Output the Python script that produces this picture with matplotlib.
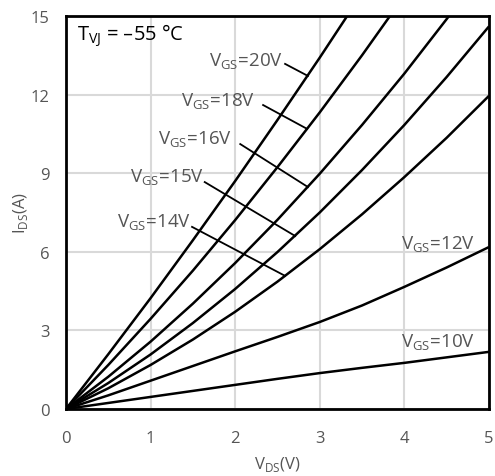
import numpy as np
import matplotlib.pyplot as plt

# I_DS (A) vs V_DS (V)
vds = [0, 0.5, 1, 1.5, 2, 2.5, 3, 3.5, 4, 4.5, 5]
ids_20 = [0, 2.09, 4.23, 6.44, 8.70, 11.03, 13.41, 15.86, 18.4, 21.0, 23.7]
ids_18 = [0, 1.68, 3.44, 5.28, 7.21, 9.23, 11.32, 13.50, 15.77, 18.1, 20.6]
ids_16 = [0, 1.23, 2.57, 4.02, 5.57, 7.22, 8.98, 10.84, 12.80, 14.88, 17.05]
ids_15 = [0, 0.99, 2.08, 3.28, 4.58, 5.99, 7.50, 9.12, 10.84, 12.67, 14.60]
ids_14 = [0, 0.79, 1.68, 2.65, 3.71, 4.86, 6.10, 7.43, 8.85, 10.35, 11.95]
ids_12 = [0, 0.52, 1.08, 1.64, 2.20, 2.75, 3.32, 3.95, 4.66, 5.40, 6.18]
ids_10 = [0, 0.23, 0.46, 0.69, 0.92, 1.15, 1.37, 1.57, 1.76, 1.97, 2.18]

# label text, text anchor (right end), leader start, leader end
labels = ['20', '18', '16', '15', '14', '12', '10']
label_xy = [(2.56, 13.28), (2.24, 11.76), (1.96, 10.32), (1.63, 8.85), (1.48, 7.14), (4.84, 6.3), (4.84, 2.55)]
lead_from = [(2.59, 13.17), (2.33, 11.6), (2.06, 10.11), (1.64, 8.66), (1.49, 6.95), None, None]
lead_to = [(2.86, 12.71), (2.85, 10.69), (2.86, 8.47), (2.71, 6.60), (2.59, 5.08), None, None]

grey = '#555555'
fig = plt.figure(figsize=(4.95, 4.77), dpi=100)
ax = fig.add_axes([0.1333, 0.1405, 0.8545, 0.824])

for ys in [ids_20, ids_18, ids_16, ids_15, ids_14, ids_12, ids_10]:
    ax.plot(vds, ys, color='black', lw=1.8, solid_capstyle='butt')

for lab, (tx, ty), p0, p1 in zip(labels, label_xy, lead_from, lead_to):
    ax.text(tx, ty, r'V$_{\mathregular{GS}}$=' + lab + 'V', ha='right', va='center',
            fontsize=13.5, color=grey, family='Open Sans')
    if p0 is not None:
        ax.plot([p0[0], p1[0]], [p0[1], p1[1]], color='black', lw=1.3)

ax.text(0.13, 14.3, r'T$_{\mathregular{VJ}}$ = –55 °C', ha='left', va='center',
        fontsize=14.5, color='black', family='Open Sans')

ax.set_xlim(0, 5)
ax.set_ylim(0, 15)
ax.set_xticks([0, 1, 2, 3, 4, 5])
ax.set_yticks([0, 3, 6, 9, 12, 15])
ax.grid(True, color='#d9d9d9', lw=1.5)
ax.set_axisbelow(True)
ax.tick_params(length=0, labelsize=12, labelcolor=grey, pad=12)
ax.tick_params(axis='x', pad=15)
for lbl in ax.get_xticklabels() + ax.get_yticklabels():
    lbl.set_family('Open Sans')
for s in ax.spines.values():
    s.set_linewidth(2)
    s.set_color('black')

ax.set_xlabel(r'V$_{\mathregular{DS}}$(V)', fontsize=12, color=grey, family='Open Sans', labelpad=6)
ax.set_ylabel(r'I$_{\mathregular{DS}}$(A)', fontsize=12, color=grey, family='Open Sans', labelpad=0)

fig.savefig('out.png', dpi=100)
